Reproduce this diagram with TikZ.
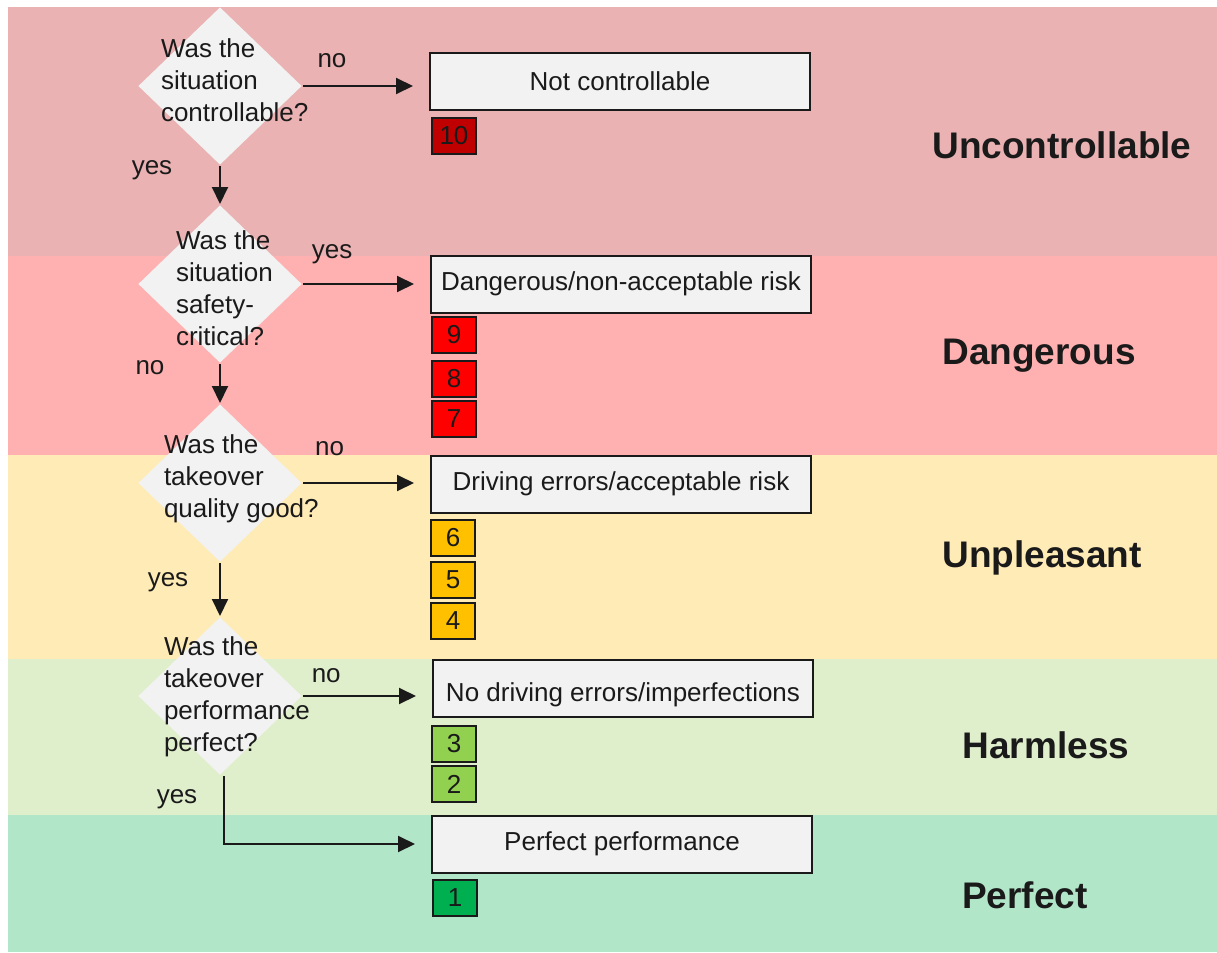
\documentclass[tikz,border=0pt]{standalone}
\usepackage{fontspec}
\setmainfont{Liberation Sans}
\usetikzlibrary{shapes.geometric,arrows.meta,positioning,calc}

\definecolor{ink}{RGB}{26,26,26}
\definecolor{boxgray}{RGB}{242,242,242}
\definecolor{bandUnc}{RGB}{234,178,178}
\definecolor{bandDan}{RGB}{255,177,177}
\definecolor{bandUnp}{RGB}{255,235,182}
\definecolor{bandHar}{RGB}{224,239,203}
\definecolor{bandPer}{RGB}{177,230,201}
\definecolor{scoreTen}{RGB}{192,0,0}
\definecolor{scoreRed}{RGB}{255,0,0}
\definecolor{scoreAmber}{RGB}{255,192,0}
\definecolor{scoreLime}{RGB}{146,208,80}
\definecolor{scoreGreen}{RGB}{0,176,80}

\begin{document}
\begin{tikzpicture}[%
    x=0.5pt, y=-0.5pt,
    >={Triangle[length=8.5pt,width=8pt]},
    line width=1pt,
    font=\fontsize{13}{16}\selectfont,
    question/.style={diamond, fill=boxgray, minimum width=82pt, minimum height=79pt, inner sep=0pt},
    qtext/.style={align=left, anchor=west, inner sep=0pt, text=ink},
    outcome/.style={draw=ink, fill=boxgray, minimum width=190pt, minimum height=28.5pt, text=ink},
    score/.style={draw=ink, line width=0.8pt, minimum width=22pt, minimum height=18pt, inner sep=0pt, text=ink},
    level/.style={font=\fontsize{18.5}{22}\selectfont\bfseries, text=ink},
    flow/.style={->, ink, shorten >=8pt}
  ]
  \useasboundingbox (0,0) rectangle (1217,953);

  % background bands
  \fill[bandUnc] (8,7) rectangle (1217,256);
  \fill[bandDan] (8,256) rectangle (1217,455);
  \fill[bandUnp] (8,455) rectangle (1217,659);
  \fill[bandHar] (8,659) rectangle (1217,815);
  \fill[bandPer] (8,815) rectangle (1217,952);

  % questions
  \node[question] (q1) at (220,86) {};
  \node[question] (q2) at (220,284) {};
  \node[question] (q3) at (220,483) {};
  \node[question] (q4) at (220,696) {};

  \node[qtext] (t1) at (160,80) {Was the\\situation\\controllable?};
  \node[qtext] (t2) at (175,288) {Was the\\situation\\safety-\\critical?};
  \node[qtext] (t3) at (163,479) {Was the\\takeover\\quality good?};
  \node[qtext] (t4) at (163,697) {Was the\\takeover\\performance\\perfect?};

  % outcomes
  \node[outcome] (b1) at (620,81) {Not controllable};
  \node[outcome] (b2) at (621,284) {Dangerous/non-acceptable risk};
  \node[outcome] (b3) at (621,484) {Driving errors/acceptable risk};
  \node[outcome, text height=16.5pt] (b4) at (623,688) {No driving errors/imperfections};
  \node[outcome] (b5) at (622,844) {Perfect performance};

  % scores
  \node[score, fill=scoreTen] (s10) at (454,136) {10};
  \node[score, fill=scoreRed] (s9) at (454,335) {9};
  \node[score, fill=scoreRed] (s8) at (454,379) {8};
  \node[score, fill=scoreRed] (s7) at (454,419) {7};
  \node[score, fill=scoreAmber] (s6) at (453,538) {6};
  \node[score, fill=scoreAmber] (s5) at (453,580) {5};
  \node[score, fill=scoreAmber] (s4) at (453,621) {4};
  \node[score, fill=scoreLime] (s3) at (454,744) {3};
  \node[score, fill=scoreLime] (s2) at (454,784) {2};
  \node[score, fill=scoreGreen] (s1) at (455,898) {1};

  % levels
  \node[level] (l1) at (1062,145) {Uncontrollable};
  \node[level] (l2) at (1039,356) {Dangerous};
  \node[level] (l3) at (1042,558) {Unpleasant};
  \node[level] (l4) at (1046,745) {Harmless};
  \node[level] (l5) at (1025,895) {Perfect};

  \path[flow] (q1.east) edge node[pos=0.23, yshift=12.5pt] {no} (q1.east -| b1.west);
  \path[flow] (q2.east) edge node[pos=0.23, yshift=15pt] {yes} (q2.east -| b2.west);
  \path[flow] (q3.east) edge node[pos=0.21, yshift=17pt] {no} (q3.east -| b3.west);
  \path[flow] (q4.east) edge node[pos=0.18, yshift=10pt] {no} (q4.east -| b4.west);

  \path[->, ink] (q1.south) edge node[pos=0.1, xshift=-34pt] {yes} (q2.north);
  \path[->, ink] (q2.south) edge node[pos=0.1, xshift=-35pt] {no} (q3.north);
  \path[->, ink] (q3.south) edge node[pos=0.36, xshift=-26pt] {yes} (q4.north);
  \draw[flow] ([xshift=2pt]q4.south) |- node[pos=0.17, xshift=-23.5pt] {yes} (b5.west);

\end{tikzpicture}
\end{document}
